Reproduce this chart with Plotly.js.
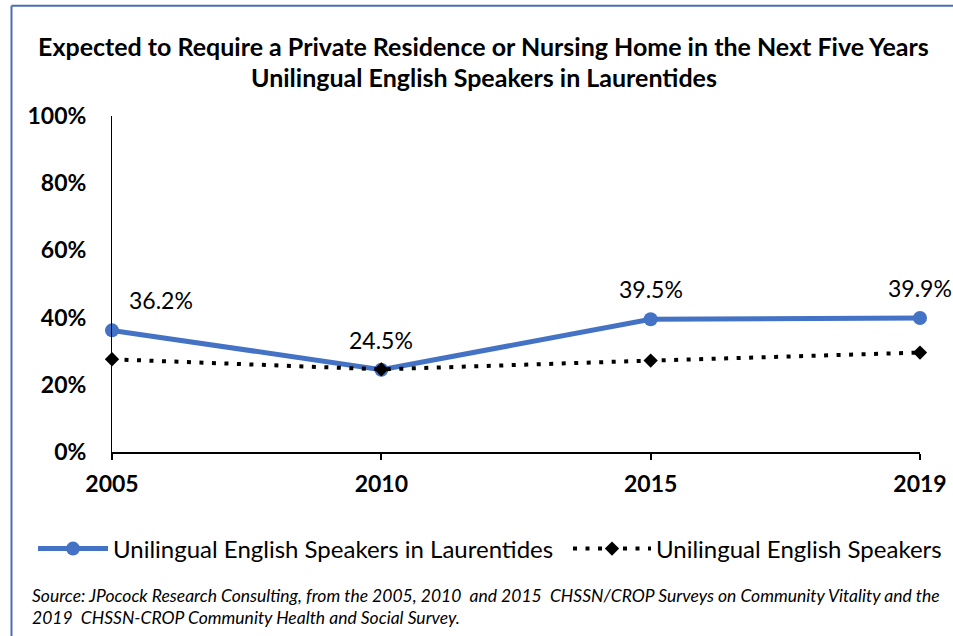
<!DOCTYPE html>
<html>
<head>
<meta charset="utf-8">
<script src="https://cdn.plot.ly/plotly-3.0.1.min.js"></script>
<style>html,body{margin:0;padding:0;background:#fff;}#chart{width:953px;height:636px;}</style>
</head>
<body>
<div id="chart"></div>
<script>
const years = ['2005', '2010', '2015', '2019'];
const laurentides = [0.362, 0.245, 0.395, 0.399];
const allSpeakers = [0.276, 0.246, 0.272, 0.296];
const laurentidesLabels = ['36.2%', '24.5%', '39.5%', '39.9%'];
const seriesNames = ['Unilingual English Speakers in Laurentides', 'Unilingual English Speakers'];
const titleLines = ['Expected to Require a Private Residence or Nursing Home in the Next Five Years', 'Unilingual English Speakers in Laurentides'];
const sourceLines = ['Source: JPocock Research Consulting, from the 2005, 2010  and 2015  CHSSN/CROP Surveys on Community Vitality and the', '2019  CHSSN-CROP Community Health and Social Survey.'];

const FONT = 'Lato, "Open Sans", sans-serif';

const traces = [
  {
    x: years, y: laurentides, name: seriesNames[0], type: 'scatter', mode: 'lines+markers',
    line: {color: '#4472C4', width: 5},
    marker: {color: '#4472C4', size: 14, symbol: 'circle'},
    cliponaxis: false, legend: 'legend'
  },
  {
    x: years, y: allSpeakers, name: seriesNames[1], type: 'scatter', mode: 'lines+markers',
    line: {color: '#000000', width: 4, dash: '4px,8.5px'},
    marker: {color: '#000000', size: 11, symbol: 'diamond'},
    cliponaxis: false, legend: 'legend2'
  }
];

const labelXShift = [49, 0, 0, 0];
const annotations = [];
laurentidesLabels.forEach((t, i) => {
  annotations.push({
    x: i, y: laurentides[i], xref: 'x', yref: 'y', text: t, showarrow: false,
    xshift: labelXShift[i], yshift: 30, yanchor: 'middle', xanchor: 'center',
    font: {family: FONT, size: 23, color: '#000'}
  });
});
titleLines.forEach((t, i) => {
  annotations.push({
    x: 0.46, y: i === 0 ? 1.208 : 1.116, xref: 'paper', yref: 'paper', text: '<b>' + t + '</b>',
    showarrow: false, xanchor: 'center', yanchor: 'middle',
    font: {family: FONT, size: 25, color: '#000'}
  });
});
sourceLines.forEach((t, i) => {
  annotations.push({
    x: -0.1015, y: i === 0 ? -0.4256 : -0.494, xref: 'paper', yref: 'paper', text: '<i>' + t + '</i>',
    showarrow: false, xanchor: 'left', yanchor: 'middle',
    font: {family: FONT, size: 17.5, color: '#000'}
  });
});

const legendBase = {
  orientation: 'h', xref: 'container', yref: 'container', y: 1 - 549 / 636,
  xanchor: 'left', yanchor: 'middle', font: {family: FONT, size: 24, color: '#000'},
  bgcolor: 'rgba(0,0,0,0)'
};

const layout = {
  width: 953, height: 636,
  margin: {l: 112, r: 33, t: 116, b: 184, pad: 0},
  paper_bgcolor: '#fff', plot_bgcolor: '#fff',
  showlegend: true,
  legend: Object.assign({}, legendBase, {x: 33 / 953, itemwidth: 70}),
  legend2: Object.assign({}, legendBase, {x: 568 / 953, itemwidth: 78}),
  xaxis: {
    type: 'category', range: [0, 3], showgrid: false, zeroline: false,
    showline: true, linecolor: '#000', linewidth: 2,
    ticks: 'outside', ticklen: 6, tickwidth: 2, tickcolor: '#000',
    ticklabelstandoff: 4,
    tickfont: {family: FONT, size: 23, color: '#000', weight: 'bold'}
  },
  yaxis: {
    range: [0, 1], dtick: 0.2, tickformat: '.0%', showgrid: false, zeroline: false,
    showline: true, linecolor: '#000', linewidth: 1, ticks: '',
    ticklabelstandoff: 20,
    tickfont: {family: FONT, size: 23, color: '#000', weight: 'bold'}
  },
  annotations: annotations,
  shapes: [
    {type: 'line', xref: 'paper', yref: 'paper', x0: -0.1244, x1: -0.1244, y0: 1.328, y1: -0.6, line: {color: '#4A6EB3', width: 2}},
    {type: 'line', xref: 'paper', yref: 'paper', x0: -0.1244, x1: 1.1, y0: 1.328, y1: 1.328, line: {color: '#4A6EB3', width: 2}}
  ]
};

Plotly.newPlot('chart', traces, layout, {displayModeBar: false, staticPlot: true});
</script>
</body>
</html>
